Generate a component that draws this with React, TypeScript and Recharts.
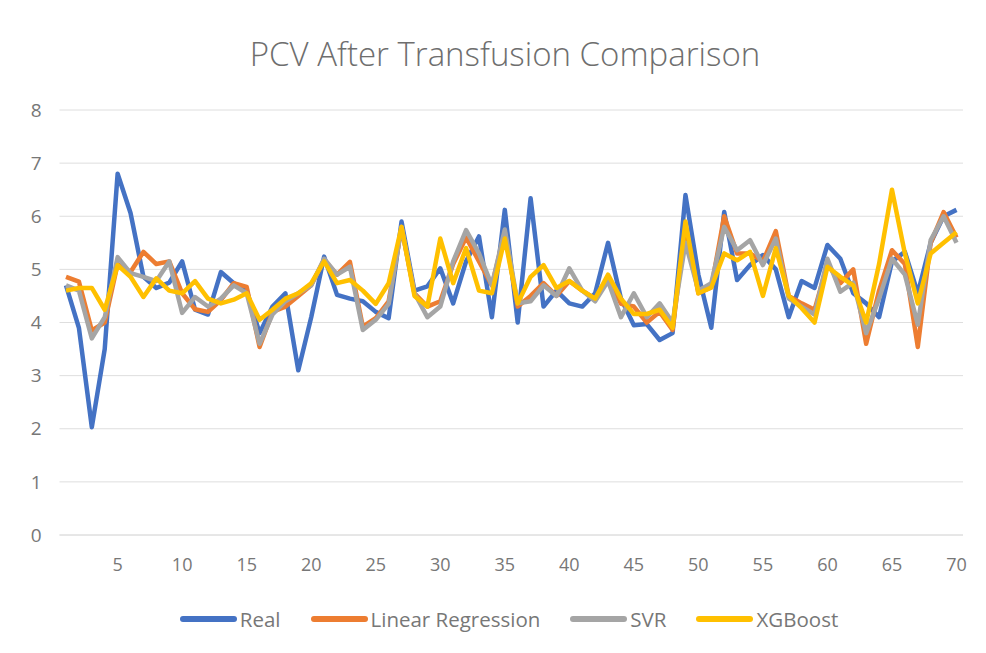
import { LineChart, Line, XAxis, YAxis, CartesianGrid, Legend } from "recharts";

const samples = Array.from({ length: 70 }, (_, i) => i + 1);

const real = [
  4.7, 3.9, 2.03, 3.5, 6.8, 6.06, 4.86, 4.65, 4.75, 5.15,
  4.24, 4.15, 4.95, 4.74, 4.6, 3.8, 4.3, 4.55, 3.1, 4.1,
  5.24, 4.52, 4.45, 4.4, 4.2, 4.08, 5.9, 4.6, 4.68, 5.02,
  4.36, 5.15, 5.62, 4.1, 6.12, 4.0, 6.34, 4.3, 4.6, 4.36,
  4.3, 4.55, 5.5, 4.45, 3.95, 3.97, 3.67, 3.8, 6.4, 4.9,
  3.9, 6.08, 4.8, 5.08, 5.27, 5.0, 4.1, 4.78, 4.65, 5.46,
  5.2, 4.55, 4.36, 4.1, 5.15, 5.33, 4.55, 5.5, 6.0, 6.12,
];

const linearRegression = [
  4.86, 4.77, 3.85, 4.0, 5.1, 4.95, 5.33, 5.1, 5.15, 4.55,
  4.25, 4.2, 4.42, 4.74, 4.67, 3.54, 4.2, 4.3, 4.5, 4.7,
  5.18, 4.9, 5.14, 3.92, 4.08, 4.4, 5.78, 4.55, 4.3, 4.4,
  5.1, 5.6, 5.15, 4.7, 5.7, 4.3, 4.5, 4.74, 4.5, 4.78,
  4.6, 4.45, 4.86, 4.35, 4.3, 4.0, 4.2, 3.86, 5.8, 4.55,
  4.66, 6.0, 5.3, 5.3, 5.15, 5.72, 4.5, 4.36, 4.24, 5.1,
  4.74, 5.0, 3.6, 4.6, 5.36, 5.1, 3.54, 5.5, 6.08, 5.6,
];

const svr = [
  4.7, 4.6, 3.7, 4.1, 5.23, 4.93, 4.86, 4.78, 5.15, 4.18,
  4.48, 4.3, 4.45, 4.7, 4.55, 3.6, 4.15, 4.4, 4.55, 4.7,
  5.2, 4.9, 5.05, 3.86, 4.05, 4.35, 5.8, 4.55, 4.1, 4.3,
  5.15, 5.74, 5.3, 4.7, 5.75, 4.36, 4.4, 4.7, 4.5, 5.02,
  4.6, 4.4, 4.78, 4.1, 4.55, 4.1, 4.36, 4.0, 5.5, 4.6,
  4.74, 5.8, 5.36, 5.55, 5.08, 5.58, 4.45, 4.3, 4.15, 5.2,
  4.58, 4.75, 3.8, 4.45, 5.2, 4.9, 3.96, 5.55, 6.0, 5.5,
];

const xgboost = [
  4.6, 4.65, 4.65, 4.24, 5.08, 4.86, 4.48, 4.83, 4.6, 4.55,
  4.78, 4.45, 4.36, 4.43, 4.55, 4.05, 4.24, 4.45, 4.55, 4.74,
  5.15, 4.74, 4.8, 4.6, 4.35, 4.74, 5.8, 4.5, 4.3, 5.58,
  4.74, 5.4, 4.6, 4.55, 5.58, 4.36, 4.86, 5.08, 4.65, 4.78,
  4.6, 4.45, 4.9, 4.45, 4.16, 4.16, 4.24, 3.9, 5.9, 4.55,
  4.66, 5.3, 5.17, 5.33, 4.5, 5.4, 4.5, 4.27, 4.0, 5.05,
  4.86, 4.7, 4.0, 5.1, 6.5, 5.3, 4.36, 5.3, 5.5, 5.7,
];

const yTicks = [0, 1, 2, 3, 4, 5, 6, 7, 8];

const series = [
  { key: "real", name: "Real", color: "#4472C4" },
  { key: "lr", name: "Linear Regression", color: "#ED7D31" },
  { key: "svr", name: "SVR", color: "#A5A5A5" },
  { key: "xgb", name: "XGBoost", color: "#FFC000" },
];

const data = samples.map((n, i) => ({
  n,
  real: real[i],
  lr: linearRegression[i],
  svr: svr[i],
  xgb: xgboost[i],
}));

const font = "'Open Sans', sans-serif";
const textGray = "#777777";

const renderLegend = () => (
  <div
    style={{
      display: "flex",
      justifyContent: "center",
      alignItems: "center",
      gap: 30,
      fontFamily: font,
      fontSize: 20.5,
      color: textGray,
      paddingLeft: 32,
    }}
  >
    {series.map((s) => (
      <div key={s.key} style={{ display: "flex", alignItems: "center" }}>
        <span
          style={{
            display: "inline-block",
            width: 57,
            height: 6,
            borderRadius: 3,
            background: s.color,
            marginRight: 3,
          }}
        />
        <span>{s.name}</span>
      </div>
    ))}
  </div>
);

export default function App() {
  return (
    <div style={{ position: "relative", width: 970, height: 637, background: "#fff" }}>
      <div
        style={{
          position: "absolute",
          left: 197,
          top: 26,
          width: 600,
          textAlign: "center",
          fontFamily: font,
          fontWeight: 300,
          fontSize: 33,
          lineHeight: "40px",
          color: "#6e6e6e",
        }}
      >
        PCV After Transfusion Comparison
      </div>
      <LineChart
        width={970}
        height={637}
        data={data}
        margin={{ top: 102, right: 15, left: 0, bottom: 60 }}
      >
        <CartesianGrid vertical={false} stroke="#dedede" />
        <XAxis
          dataKey="n"
          type="category"
          interval={0}
          padding={{ left: 6.5, right: 6.5 }}
          tickLine={false}
          axisLine={{ stroke: "#dedede" }}
          tickMargin={17}
          height={50}
          tick={{ fill: textGray, fontSize: 18, fontFamily: font }}
          tickFormatter={(v: number) => (v % 5 === 0 ? String(v) : "")}
        />
        <YAxis
          domain={[0, 8]}
          ticks={yTicks}
          width={51.5}
          tickLine={false}
          axisLine={false}
          tickMargin={12}
          tick={{ fill: textGray, fontSize: 19, fontFamily: font }}
        />
        <Legend
          layout="horizontal"
          verticalAlign="middle"
          align="center"
          content={renderLegend}
          wrapperStyle={{ top: 597, left: 0, width: 970 }}
        />
        {series.map((s) => (
          <Line
            key={s.key}
            type="linear"
            dataKey={s.key}
            name={s.name}
            stroke={s.color}
            strokeWidth={4.5}
            strokeLinejoin="round"
            dot={false}
            activeDot={false}
            isAnimationActive={false}
          />
        ))}
      </LineChart>
    </div>
  );
}
